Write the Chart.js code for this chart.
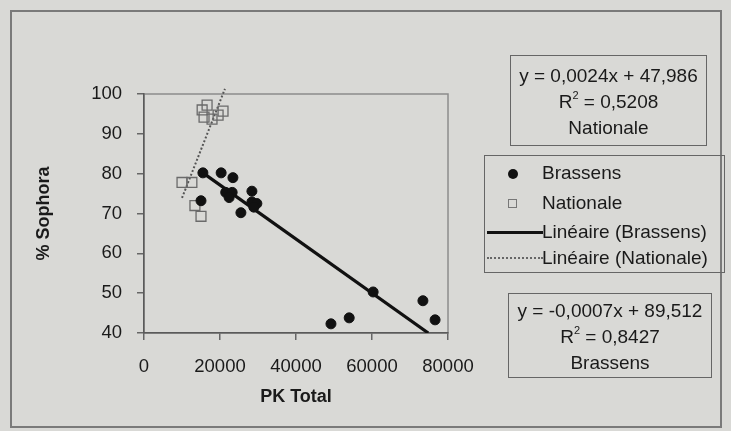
<!DOCTYPE html>
<html>
<head>
<meta charset="utf-8">
<script src="https://cdn.jsdelivr.net/npm/chart.js@4.4.1/dist/chart.umd.min.js"></script>
<style>
  html, body { margin:0; padding:0; background:#d9d9d6; }
  body { width:731px; height:431px; position:relative; overflow:hidden;
         font-family:'Liberation Sans', Arial, sans-serif; color:#1a1a1a; }
  #frame { position:absolute; left:10px; top:10px; width:712px; height:418px;
           border:2px solid #7a7a7a; box-sizing:border-box; }
  canvas { position:absolute; left:0; top:0; }
  .box { position:absolute; border:1.5px solid #666; box-sizing:border-box;
         font-size:19px; text-align:center; line-height:26px; }
  .box sup { font-size:11px; vertical-align:9px; line-height:0; }
  #legend { position:absolute; left:484px; top:155px; width:241px; height:118px;
            border:1.5px solid #666; box-sizing:border-box; font-size:19px; }
  .item { position:absolute; left:57px; height:26px; line-height:26px; white-space:nowrap; }
  .mk { position:absolute; }
</style>
</head>
<body>
<div id="frame"></div>
<canvas id="chart" width="731" height="431"></canvas>

<div class="box" style="left:510px;top:55px;width:197px;height:91px;padding-top:7px">
  y = 0,0024x + 47,986<br>R<sup>2</sup> = 0,5208<br>Nationale
</div>

<div id="legend">
  <div class="mk" style="left:23px;top:13px;width:10px;height:10px;border-radius:50%;background:#111"></div>
  <div class="item" style="top:4px">Brassens</div>
  <div class="mk" style="left:23px;top:43px;width:9px;height:9px;border:1px solid #777;box-sizing:border-box"></div>
  <div class="item" style="top:34px">Nationale</div>
  <div class="mk" style="left:2px;top:75px;width:56px;height:3px;background:#111"></div>
  <div class="item" style="top:63px">Linéaire (Brassens)</div>
  <div class="mk" style="left:2px;top:101px;width:56px;height:0;border-top:2px dotted #666"></div>
  <div class="item" style="top:89px">Linéaire (Nationale)</div>
</div>

<div class="box" style="left:508px;top:293px;width:204px;height:85px;padding-top:4px">
  y = -0,0007x + 89,512<br>R<sup>2</sup> = 0,8427<br>Brassens
</div>

<script>
// ── data ──
const brassensX = [15500, 20300, 23400, 21500, 23200, 22400, 15000, 28400, 28400, 29700, 28900, 25500, 49200, 54000, 60300, 73400, 76600];
const brassensY = [80.2, 80.2, 79.0, 75.3, 75.3, 74.0, 73.2, 75.6, 72.9, 72.5, 71.6, 70.2, 42.3, 43.8, 50.3, 48.1, 43.3];

const nationaleX = [16600, 15300, 15800, 17900, 19500, 20800, 10000, 12600, 13400, 15000];
const nationaleY = [97.2, 96.0, 94.2, 93.7, 94.7, 95.7, 77.8, 77.8, 72.0, 69.3];

// trendline end points
const trendBrassensX  = [15500, 74800];
const trendBrassensY  = [80.2, 40.0];
const trendNationaleX = [10000, 21300];
const trendNationaleY = [73.9, 101.3];

const yTicks = [40, 50, 60, 70, 80, 90, 100];
const xTicks = [0, 20000, 40000, 60000, 80000];

const pts = (xs, ys) => xs.map((x, i) => ({ x, y: ys[i] }));
const FONT = "'Liberation Sans', Arial, sans-serif";

// plot area outline (top + right edges show as a light frame)
const plotFrame = {
  id: 'plotFrame',
  beforeDraw(chart) {
    const { ctx, chartArea: a } = chart;
    ctx.save();
    ctx.strokeStyle = '#8c8c8c';
    ctx.lineWidth = 1.5;
    ctx.strokeRect(a.left, a.top, a.right - a.left, a.bottom - a.top);
    ctx.restore();
  }
};

new Chart(document.getElementById('chart'), {
  type: 'scatter',
  data: {
    datasets: [
      { label: 'Brassens', data: pts(brassensX, brassensY),
        pointStyle: 'circle', pointRadius: 5, pointBackgroundColor: '#111', pointBorderColor: '#111', showLine: false },
      { label: 'Nationale', data: pts(nationaleX, nationaleY),
        pointStyle: 'rect', pointRadius: 7, pointBackgroundColor: 'rgba(0,0,0,0)',
        pointBorderColor: '#6a6a6a', pointBorderWidth: 1.3, showLine: false },
      { label: 'Linéaire (Brassens)', data: pts(trendBrassensX, trendBrassensY),
        showLine: true, borderColor: '#111', borderWidth: 3.2, pointRadius: 0 },
      { label: 'Linéaire (Nationale)', data: pts(trendNationaleX, trendNationaleY),
        showLine: true, borderColor: '#555', borderWidth: 2, borderDash: [2, 2], pointRadius: 0, clip: false }
    ]
  },
  options: {
    responsive: false,
    animation: false,
    layout: { padding: { left: 0, top: 94, right: 283, bottom: 0 } },
    plugins: { legend: { display: false }, tooltip: { enabled: false } },
    scales: {
      x: {
        type: 'linear', min: 0, max: 80000,
        afterFit: s => { s.height = 98; },
        afterBuildTicks: s => { s.ticks = xTicks.map(v => ({ value: v })); },
        ticks: { color: '#1a1a1a', font: { family: FONT, size: 18.5 }, padding: 16, maxRotation: 0,
                 callback: v => String(v) },
        grid: { drawOnChartArea: false, drawTicks: true, tickLength: 7, color: '#666', lineWidth: 1.5 },
        border: { display: true, color: '#5a5a5a', width: 1.5 },
        title: { display: true, text: 'PK Total', color: '#1a1a1a',
                 font: { family: FONT, size: 18, weight: 'bold' }, padding: { bottom: 23 } }
      },
      y: {
        type: 'linear', min: 40, max: 100,
        afterFit: s => { s.width = 144; },
        afterBuildTicks: s => { s.ticks = yTicks.map(v => ({ value: v })); },
        ticks: { color: '#1a1a1a', font: { family: FONT, size: 18.5 }, padding: 15 },
        grid: { drawOnChartArea: false, drawTicks: true, tickLength: 7, color: '#666', lineWidth: 1.5 },
        border: { display: true, color: '#5a5a5a', width: 1.5 },
        title: { display: true, text: '% Sophora', color: '#1a1a1a',
                 font: { family: FONT, size: 18, weight: 'bold' }, padding: { top: 33 } }
      }
    }
  },
  plugins: [plotFrame]
});
</script>
</body>
</html>
